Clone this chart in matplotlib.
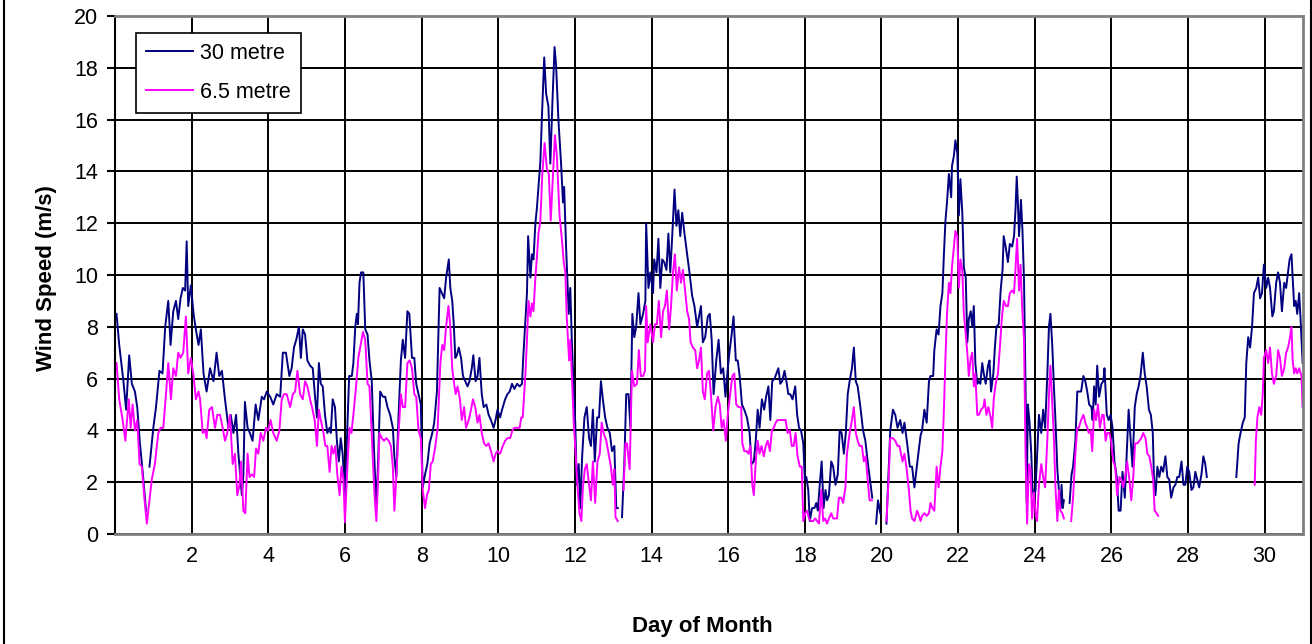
import numpy as np
import matplotlib
matplotlib.use("Agg")
import matplotlib.pyplot as plt
from matplotlib.lines import Line2D

# wind speed readings (day of month, m/s); None marks a gap in the record
pts_30m = [
    (0.04, 8.5), (0.11, 7.3), (0.22, 5.9), (0.29, 4.8), (0.37, 6.9), (0.44, 5.8), (0.52, 5.5),
    (0.58, 4.9), (0.65, 3.5), (0.71, 2.6), (0.81, 0.9), (0.85, None), (0.9, 2.6), (1.0, 4.1),
    (1.07, 4.9), (1.16, 6.3), (1.24, 6.2), (1.31, 8.0), (1.39, 9.0), (1.45, 7.3), (1.52, 8.6),
    (1.59, 9.0), (1.65, 8.3), (1.71, 9.1), (1.77, 9.5), (1.83, 9.4), (1.87, 11.3), (1.91, 8.8),
    (1.98, 9.6), (2.05, 8.5), (2.11, 7.9), (2.18, 7.3), (2.24, 7.9), (2.31, 6.2), (2.39, 5.5),
    (2.48, 6.4), (2.57, 5.9), (2.65, 7.0), (2.72, 6.1), (2.79, 6.3), (2.87, 5.2), (2.96, 4.1),
    (3.02, 4.6), (3.09, 3.9), (3.16, 4.6), (3.22, 3.1), (3.31, 1.5), (3.35, 2.3), (3.39, 5.1),
    (3.46, 4.1), (3.52, 3.9), (3.59, 3.6), (3.67, 5.0), (3.74, 4.4), (3.83, 5.3), (3.89, 5.2),
    (3.96, 5.5), (4.05, 5.3), (4.13, 5.0), (4.22, 5.4), (4.31, 5.3), (4.38, 7.0), (4.46, 7.0),
    (4.55, 6.1), (4.61, 6.4), (4.67, 7.2), (4.73, 7.5), (4.8, 8.0), (4.85, 6.8), (4.9, 7.9),
    (4.96, 7.7), (5.02, 6.7), (5.09, 6.5), (5.16, 6.4), (5.22, 5.3), (5.27, 4.5), (5.32, 6.6),
    (5.37, 5.8), (5.42, 5.7), (5.48, 4.6), (5.54, 3.9), (5.6, 4.1), (5.63, 3.9), (5.68, 5.2),
    (5.74, 4.9), (5.79, 3.6), (5.84, 2.8), (5.89, 3.7), (5.94, 3.1), (6.0, 1.5), (6.05, 3.6),
    (6.11, 6.1), (6.18, 6.1), (6.22, 6.6), (6.27, 8.0), (6.31, 8.5), (6.34, 8.1), (6.38, 9.7),
    (6.42, 10.1), (6.48, 10.1), (6.53, 7.9), (6.59, 7.7), (6.64, 6.7), (6.7, 5.9), (6.76, 3.2),
    (6.82, 1.0), (6.87, 3.0), (6.92, 5.5), (6.99, 5.3), (7.05, 5.3), (7.11, 4.9), (7.18, 4.6),
    (7.25, 4.1), (7.29, 3.0), (7.34, 2.2), (7.4, 4.6), (7.46, 6.7), (7.51, 7.5), (7.57, 6.8),
    (7.63, 8.6), (7.68, 8.5), (7.75, 6.8), (7.81, 6.8), (7.86, 5.8), (7.92, 5.4), (7.98, 5.0),
    (8.03, 1.8), (8.09, 2.3), (8.15, 2.7), (8.21, 3.5), (8.28, 3.9), (8.33, 4.3), (8.4, 5.5),
    (8.47, 9.5), (8.53, 9.3), (8.59, 9.1), (8.64, 9.9), (8.71, 10.6), (8.75, 9.5), (8.8, 9.0),
    (8.84, 8.1), (8.88, 6.8), (8.92, 6.9), (8.97, 7.2), (9.03, 6.8), (9.08, 6.1), (9.14, 5.9),
    (9.2, 5.7), (9.25, 5.9), (9.31, 6.4), (9.35, 6.9), (9.41, 5.9), (9.46, 6.1), (9.51, 6.8),
    (9.57, 5.4), (9.62, 4.9), (9.69, 5.0), (9.75, 4.6), (9.81, 4.4), (9.88, 4.1), (9.93, 4.4),
    (9.98, 4.8), (10.05, 4.5), (10.1, 4.8), (10.18, 5.2), (10.24, 5.4), (10.3, 5.5), (10.36, 5.8),
    (10.42, 5.6), (10.49, 5.8), (10.56, 5.7), (10.62, 5.8), (10.66, 7.0), (10.71, 8.3), (10.75, 9.3),
    (10.78, 11.5), (10.84, 9.9), (10.88, 10.8), (10.92, 10.6), (10.97, 12.0), (11.01, 12.6),
    (11.05, 13.4), (11.1, 14.4), (11.14, 16.1), (11.2, 18.4), (11.25, 17.0), (11.31, 16.5),
    (11.36, 14.3), (11.41, 16.5), (11.47, 18.8), (11.51, 18.1), (11.57, 16.0), (11.64, 14.3),
    (11.69, 12.8), (11.72, 13.4), (11.77, 11.1), (11.84, 8.5), (11.88, 9.5), (11.92, 7.5),
    (11.97, 5.6), (12.01, 4.3), (12.05, 1.9), (12.1, 2.7), (12.14, 1.0), (12.19, 3.0), (12.25, 4.5),
    (12.31, 4.9), (12.37, 3.7), (12.42, 3.4), (12.47, 4.8), (12.52, 2.8), (12.58, 4.5), (12.63, 4.5),
    (12.68, 5.9), (12.73, 5.2), (12.79, 4.5), (12.85, 4.1), (12.91, 3.9), (12.97, 3.2), (13.03, 3.4),
    (13.08, 1.0), (13.12, 1.0), (13.17, None), (13.23, 0.65), (13.29, 2.7), (13.34, 5.4), (13.4, 5.4),
    (13.45, 4.1), (13.5, 8.5), (13.55, 7.6), (13.6, 8.0), (13.66, 9.3), (13.71, 8.1), (13.78, 8.5),
    (13.84, 9.0), (13.86, 12.0), (13.92, 9.5), (13.97, 10.1), (14.04, 9.3), (14.07, 10.6),
    (14.13, 10.1), (14.18, 11.4), (14.23, 9.5), (14.28, 10.6), (14.33, 10.5), (14.39, 10.2),
    (14.44, 11.6), (14.49, 10.1), (14.54, 11.5), (14.6, 13.3), (14.65, 11.9), (14.7, 12.5),
    (14.75, 11.5), (14.8, 12.4), (14.86, 11.6), (14.93, 10.8), (14.99, 10.1), (15.06, 9.2),
    (15.12, 8.8), (15.19, 8.0), (15.24, 8.4), (15.29, 8.8), (15.34, 7.4), (15.4, 7.6), (15.47, 8.4),
    (15.52, 8.5), (15.57, 7.5), (15.62, 5.4), (15.69, 6.7), (15.75, 7.5), (15.81, 6.2), (15.87, 6.4),
    (15.93, 5.3), (15.99, 6.4), (16.04, 7.1), (16.09, 7.7), (16.14, 8.4), (16.2, 6.7), (16.25, 6.7),
    (16.3, 6.1), (16.36, 5.0), (16.42, 4.8), (16.49, 4.5), (16.56, 3.9), (16.61, 2.7), (16.67, 2.8),
    (16.72, 3.6), (16.77, 4.8), (16.82, 4.1), (16.88, 5.2), (16.94, 4.8), (16.99, 5.3), (17.05, 5.7),
    (17.1, 4.4), (17.15, 5.9), (17.21, 6.0), (17.26, 6.2), (17.31, 6.4), (17.36, 5.8), (17.41, 5.9),
    (17.47, 6.3), (17.52, 5.9), (17.57, 5.4), (17.62, 5.4), (17.68, 5.2), (17.75, 5.7), (17.8, 4.6),
    (17.85, 4.1), (17.9, 4.0), (17.96, 3.5), (18.0, 2.1), (18.04, 2.2), (18.09, 1.7), (18.13, 0.5),
    (18.19, 1.0), (18.25, 1.0), (18.3, 1.2), (18.34, 0.9), (18.39, 1.9), (18.44, 2.8), (18.49, 1.0),
    (18.54, 1.7), (18.58, 1.3), (18.63, 1.5), (18.69, 2.8), (18.74, 2.6), (18.8, 1.9), (18.86, 2.3),
    (18.91, 4.0), (18.96, 3.9), (19.02, 3.1), (19.07, 3.9), (19.12, 5.4), (19.17, 5.9), (19.23, 6.4),
    (19.28, 7.2), (19.33, 5.9), (19.38, 5.7), (19.45, 4.9), (19.52, 4.0), (19.58, 3.6), (19.64, 2.8),
    (19.7, 2.1), (19.76, 1.4), (19.81, None), (19.86, 0.4), (19.91, 1.3), (19.97, 0.8), (20.05, None),
    (20.13, 0.4), (20.23, 4.0), (20.3, 4.8), (20.36, 4.6), (20.42, 4.1), (20.49, 4.4), (20.55, 3.9),
    (20.6, 4.3), (20.67, 3.5), (20.74, 2.6), (20.8, 2.6), (20.86, 1.8), (20.93, 2.7), (20.98, 3.3),
    (21.02, 3.8), (21.06, 4.0), (21.12, 4.8), (21.18, 4.3), (21.24, 5.9), (21.28, 6.1), (21.35, 6.1),
    (21.38, 7.1), (21.44, 7.9), (21.49, 7.7), (21.54, 8.8), (21.59, 9.3), (21.63, 10.8), (21.67, 12.1),
    (21.71, 12.8), (21.76, 13.9), (21.82, 13.0), (21.84, 14.2), (21.89, 14.6), (21.93, 15.2),
    (21.98, 14.7), (22.02, 12.3), (22.06, 13.7), (22.11, 12.4), (22.15, 10.3), (22.2, 9.9),
    (22.24, 7.4), (22.28, 8.3), (22.33, 8.6), (22.37, 8.0), (22.41, 8.8), (22.45, 6.6), (22.5, 5.8),
    (22.54, 5.9), (22.58, 5.8), (22.63, 6.6), (22.67, 6.2), (22.72, 5.8), (22.78, 6.5), (22.82, 6.7),
    (22.86, 5.5), (22.92, 6.2), (22.96, 7.2), (23.0, 8.0), (23.06, 8.1), (23.11, 9.4), (23.16, 10.2),
    (23.19, 11.5), (23.24, 11.1), (23.3, 10.5), (23.35, 11.2), (23.41, 11.1), (23.46, 11.5),
    (23.5, 12.6), (23.53, 13.8), (23.56, 12.8), (23.59, 11.5), (23.64, 12.9), (23.68, 11.7),
    (23.72, 9.8), (23.76, 5.7), (23.79, 1.2), (23.82, 5.0), (23.86, 4.4), (23.91, 3.1), (23.94, 1.8),
    (23.98, 1.4), (24.02, 1.7), (24.06, 3.0), (24.11, 4.6), (24.17, 3.9), (24.22, 4.8), (24.27, 4.1),
    (24.33, 6.2), (24.37, 8.0), (24.41, 8.5), (24.46, 7.2), (24.5, 5.7), (24.54, 4.4), (24.59, 2.5),
    (24.63, 1.7), (24.67, 1.0), (24.7, 1.9), (24.73, 1.0), (24.76, 1.3), (24.83, None), (24.91, 1.2),
    (24.96, 2.3), (25.0, 2.6), (25.06, 3.6), (25.11, 5.5), (25.15, 5.5), (25.21, 5.5), (25.27, 6.1),
    (25.32, 5.9), (25.37, 5.5), (25.42, 5.0), (25.48, 4.9), (25.51, 4.4), (25.55, 5.7), (25.59, 5.0),
    (25.63, 6.5), (25.68, 5.3), (25.74, 5.8), (25.79, 5.9), (25.82, 6.4), (25.88, 4.6), (25.93, 4.4),
    (25.98, 4.6), (26.03, 4.1), (26.08, 2.8), (26.14, 2.2), (26.19, 0.9), (26.24, 0.9), (26.29, 2.4),
    (26.35, 1.4), (26.4, 3.1), (26.45, 4.8), (26.5, 3.7), (26.55, 2.6), (26.61, 4.9), (26.66, 5.4),
    (26.71, 5.7), (26.76, 6.1), (26.82, 7.0), (26.87, 6.2), (26.92, 5.7), (26.98, 4.8), (27.03, 4.6),
    (27.08, 3.9), (27.11, 2.2), (27.15, 1.5), (27.2, 2.6), (27.25, 2.2), (27.3, 2.6), (27.35, 2.4),
    (27.41, 3.0), (27.46, 2.2), (27.51, 2.1), (27.56, 1.4), (27.62, 1.8), (27.67, 1.9), (27.72, 2.2),
    (27.77, 2.2), (27.83, 2.8), (27.88, 1.9), (27.93, 1.9), (27.98, 2.6), (28.03, 2.4), (28.09, 1.7),
    (28.14, 1.8), (28.19, 2.4), (28.24, 2.1), (28.29, 1.8), (28.35, 2.3), (28.4, 3.0), (28.45, 2.7),
    (28.49, 2.2), (28.9, None), (29.26, 2.2), (29.32, 3.5), (29.37, 3.9), (29.43, 4.3), (29.48, 4.5),
    (29.52, 6.6), (29.57, 7.6), (29.62, 7.2), (29.67, 8.0), (29.72, 9.3), (29.78, 9.5), (29.83, 9.9),
    (29.88, 9.1), (29.93, 9.3), (29.98, 10.4), (30.04, 9.5), (30.09, 9.9), (30.14, 9.5), (30.2, 8.4),
    (30.24, 8.6), (30.3, 9.7), (30.35, 10.1), (30.4, 9.7), (30.45, 8.6), (30.51, 9.7), (30.56, 9.5),
    (30.61, 10.1), (30.65, 10.6), (30.7, 10.8), (30.73, 9.9), (30.77, 8.8), (30.81, 9.0), (30.85, 8.5),
    (30.9, 9.3), (30.94, 8.2), (30.99, 6.6),
]

pts_65m = [
    (0.04, 6.6), (0.11, 5.2), (0.2, 4.4), (0.27, 3.6), (0.36, 5.2), (0.41, 4.1), (0.46, 5.0),
    (0.52, 4.0), (0.58, 4.4), (0.64, 2.7), (0.7, 2.6), (0.76, 1.5), (0.83, 0.4), (0.9, 1.3),
    (0.96, 2.1), (1.04, 2.7), (1.13, 3.9), (1.19, 4.1), (1.26, 4.1), (1.33, 5.4), (1.39, 6.6),
    (1.46, 5.2), (1.52, 6.4), (1.59, 6.1), (1.65, 7.0), (1.71, 6.8), (1.78, 7.0), (1.85, 8.4),
    (1.91, 6.2), (1.98, 6.8), (2.05, 6.1), (2.11, 5.2), (2.18, 5.5), (2.22, 5.2), (2.29, 3.9),
    (2.35, 4.0), (2.39, 3.7), (2.46, 4.8), (2.53, 4.9), (2.61, 4.1), (2.67, 4.6), (2.74, 4.6),
    (2.81, 4.1), (2.87, 3.6), (2.93, 3.9), (3.0, 4.6), (3.07, 2.7), (3.13, 3.1), (3.19, 1.5),
    (3.25, 1.9), (3.29, 2.8), (3.35, 0.9), (3.4, 0.8), (3.46, 3.1), (3.51, 2.2), (3.57, 2.3),
    (3.63, 2.2), (3.68, 3.3), (3.74, 3.1), (3.8, 3.9), (3.87, 3.6), (3.94, 4.1), (4.0, 4.0),
    (4.06, 4.4), (4.13, 3.9), (4.22, 3.6), (4.29, 4.0), (4.35, 5.2), (4.41, 5.4), (4.48, 5.4),
    (4.57, 4.9), (4.64, 5.4), (4.7, 5.5), (4.76, 6.3), (4.83, 5.4), (4.9, 5.2), (4.96, 5.9),
    (5.02, 5.7), (5.09, 5.2), (5.14, 4.9), (5.21, 4.4), (5.27, 3.4), (5.32, 4.8), (5.37, 4.4),
    (5.44, 3.9), (5.49, 3.4), (5.54, 3.4), (5.6, 2.4), (5.65, 3.4), (5.7, 3.1), (5.75, 3.4),
    (5.8, 2.3), (5.86, 1.5), (5.91, 2.6), (5.96, 2.1), (6.0, 0.45), (6.07, 2.8), (6.12, 4.1),
    (6.17, 3.9), (6.22, 4.6), (6.29, 5.7), (6.35, 6.8), (6.41, 7.3), (6.47, 7.8), (6.53, 7.5),
    (6.59, 5.8), (6.64, 5.7), (6.68, 4.5), (6.73, 2.8), (6.78, 1.3), (6.82, 0.5), (6.86, 1.9),
    (6.9, 3.9), (6.96, 3.7), (7.02, 3.6), (7.08, 3.7), (7.14, 3.6), (7.2, 3.4), (7.25, 2.6),
    (7.29, 0.9), (7.34, 2.2), (7.4, 3.9), (7.46, 5.4), (7.51, 4.9), (7.57, 4.9), (7.63, 6.6),
    (7.69, 6.7), (7.75, 6.4), (7.81, 5.4), (7.86, 5.3), (7.92, 4.0), (7.98, 3.7), (8.03, 1.7),
    (8.09, 1.0), (8.14, 1.5), (8.19, 1.7), (8.24, 2.7), (8.29, 2.8), (8.36, 3.4), (8.42, 4.1),
    (8.49, 6.6), (8.54, 7.3), (8.59, 7.1), (8.64, 8.0), (8.7, 8.8), (8.75, 8.0), (8.8, 6.4),
    (8.84, 5.9), (8.89, 5.4), (8.94, 5.7), (9.0, 5.2), (9.05, 4.4), (9.11, 4.9), (9.16, 4.1),
    (9.23, 4.4), (9.29, 4.8), (9.34, 5.2), (9.4, 4.9), (9.46, 4.3), (9.51, 4.6), (9.57, 3.9),
    (9.63, 3.5), (9.69, 3.4), (9.75, 3.5), (9.81, 3.2), (9.88, 2.8), (9.93, 3.1), (9.98, 3.2),
    (10.05, 3.1), (10.12, 3.4), (10.18, 3.6), (10.24, 3.7), (10.31, 3.7), (10.37, 4.0), (10.42, 4.1),
    (10.49, 4.1), (10.56, 4.1), (10.6, 4.5), (10.64, 4.5), (10.71, 6.2), (10.75, 7.5), (10.79, 9.0),
    (10.84, 8.4), (10.88, 8.9), (10.92, 8.6), (10.97, 9.9), (11.01, 10.7), (11.05, 11.6),
    (11.1, 12.1), (11.15, 13.9), (11.21, 15.1), (11.27, 14.1), (11.32, 13.9), (11.37, 12.1),
    (11.43, 13.9), (11.48, 15.4), (11.53, 14.6), (11.6, 12.3), (11.66, 11.4), (11.71, 10.5),
    (11.75, 10.1), (11.79, 8.3), (11.85, 6.7), (11.88, 7.5), (11.92, 6.2), (11.97, 4.3), (12.02, 3.1),
    (12.07, 1.8), (12.12, 0.8), (12.17, 0.5), (12.21, 1.8), (12.26, 2.5), (12.31, 2.7), (12.37, 1.9),
    (12.42, 1.3), (12.47, 2.8), (12.53, 1.2), (12.59, 2.8), (12.65, 3.1), (12.7, 4.3), (12.75, 3.9),
    (12.82, 3.6), (12.88, 3.1), (12.94, 2.6), (12.99, 1.9), (13.03, 2.5), (13.06, 0.65), (13.12, 0.5),
    (13.2, None), (13.27, 1.7), (13.32, 3.5), (13.36, 3.5), (13.43, 2.5), (13.49, 6.3), (13.55, 5.7),
    (13.62, 5.8), (13.67, 7.1), (13.72, 6.1), (13.78, 6.1), (13.83, 6.3), (13.86, 8.8), (13.9, 7.4),
    (13.97, 8.1), (14.04, 7.4), (14.09, 8.1), (14.14, 8.1), (14.19, 9.0), (14.25, 7.6), (14.3, 8.6),
    (14.35, 8.8), (14.4, 9.4), (14.46, 7.9), (14.51, 8.8), (14.56, 10.1), (14.61, 10.8), (14.66, 9.4),
    (14.72, 10.3), (14.77, 9.7), (14.82, 10.2), (14.87, 9.5), (14.93, 8.6), (14.98, 8.3), (15.02, 7.4),
    (15.08, 7.2), (15.14, 7.1), (15.19, 6.4), (15.24, 6.7), (15.29, 7.2), (15.34, 5.5), (15.39, 5.2),
    (15.45, 6.2), (15.5, 6.3), (15.55, 5.4), (15.61, 4.0), (15.67, 4.9), (15.73, 5.3), (15.78, 5.0),
    (15.83, 4.1), (15.88, 4.4), (15.94, 3.6), (15.99, 4.6), (16.06, 5.5), (16.11, 6.1), (16.16, 6.2),
    (16.21, 5.0), (16.27, 4.9), (16.34, 4.9), (16.37, 3.5), (16.42, 3.2), (16.48, 3.2), (16.53, 3.1),
    (16.58, 3.4), (16.63, 1.9), (16.67, 1.5), (16.72, 2.8), (16.77, 3.6), (16.82, 3.1), (16.87, 3.4),
    (16.93, 3.0), (16.98, 3.4), (17.03, 3.6), (17.09, 3.2), (17.14, 4.0), (17.19, 4.1), (17.24, 4.3),
    (17.29, 4.4), (17.35, 4.4), (17.4, 4.4), (17.45, 4.4), (17.5, 4.4), (17.55, 3.9), (17.61, 4.0),
    (17.66, 3.4), (17.71, 3.4), (17.76, 3.9), (17.81, 3.0), (17.87, 2.6), (17.92, 2.6), (17.96, 0.5),
    (18.01, 0.8), (18.06, 0.9), (18.11, 0.6), (18.16, 0.5), (18.22, 0.5), (18.27, 0.6), (18.32, 0.5),
    (18.37, 0.4), (18.43, 1.7), (18.48, 0.5), (18.53, 0.6), (18.58, 0.4), (18.63, 0.6), (18.69, 0.8),
    (18.74, 0.6), (18.79, 0.6), (18.84, 0.6), (18.89, 1.4), (18.95, 1.4), (19.0, 1.2), (19.06, 1.8),
    (19.1, 3.1), (19.17, 3.9), (19.23, 4.4), (19.28, 4.9), (19.33, 3.9), (19.38, 3.6), (19.43, 3.4),
    (19.49, 3.4), (19.54, 2.8), (19.59, 3.0), (19.64, 2.1), (19.69, 1.3), (19.75, 1.3), (19.9, None),
    (20.13, 0.5), (20.19, 2.2), (20.23, 3.7), (20.3, 3.7), (20.36, 3.6), (20.42, 3.4), (20.47, 3.4),
    (20.55, 2.8), (20.6, 3.1), (20.65, 2.6), (20.71, 1.8), (20.76, 0.9), (20.8, 0.6), (20.86, 0.5),
    (20.93, 0.9), (20.98, 0.7), (21.02, 0.5), (21.06, 0.7), (21.12, 0.8), (21.18, 0.7), (21.24, 0.8),
    (21.28, 1.2), (21.33, 1.0), (21.38, 0.9), (21.44, 2.6), (21.49, 1.8), (21.54, 2.6), (21.59, 3.2),
    (21.63, 4.8), (21.67, 6.8), (21.71, 8.5), (21.76, 9.7), (21.8, 9.3), (21.84, 10.3), (21.89, 11.1),
    (21.93, 11.7), (21.98, 11.5), (22.02, 9.5), (22.06, 10.6), (22.11, 10.2), (22.15, 8.5), (22.2, 7.7),
    (22.24, 7.0), (22.28, 6.1), (22.33, 6.8), (22.37, 7.0), (22.41, 5.7), (22.45, 6.2), (22.5, 4.6),
    (22.54, 4.6), (22.6, 4.8), (22.66, 4.9), (22.69, 5.2), (22.74, 4.6), (22.79, 4.9), (22.85, 4.5),
    (22.89, 4.1), (22.93, 5.2), (22.98, 5.8), (23.04, 6.2), (23.09, 7.2), (23.14, 8.3), (23.19, 9.0),
    (23.25, 8.8), (23.3, 8.8), (23.35, 9.3), (23.41, 9.4), (23.46, 9.3), (23.5, 10.3), (23.54, 11.4),
    (23.59, 9.4), (23.63, 10.4), (23.67, 8.8), (23.72, 7.5), (23.76, 3.1), (23.8, 0.4), (23.85, 2.7),
    (23.89, 2.5), (23.93, 0.6), (23.98, 1.6), (24.02, 0.8), (24.06, 0.5), (24.11, 1.9), (24.17, 2.7),
    (24.22, 2.2), (24.27, 1.8), (24.33, 3.7), (24.38, 5.7), (24.41, 6.5), (24.46, 4.9), (24.5, 3.7),
    (24.54, 1.8), (24.59, 0.5), (24.63, 1.7), (24.67, 0.9), (24.72, 0.8), (24.76, 0.6), (24.85, None),
    (24.95, 0.5), (25.0, 1.4), (25.06, 3.1), (25.11, 4.1), (25.15, 4.1), (25.21, 4.4), (25.27, 4.6),
    (25.32, 4.3), (25.37, 4.1), (25.41, 3.9), (25.46, 4.0), (25.5, 3.2), (25.55, 4.8), (25.6, 4.4),
    (25.65, 5.0), (25.7, 4.1), (25.76, 4.6), (25.8, 4.6), (25.85, 3.6), (25.89, 3.9), (25.95, 3.9),
    (25.99, 3.6), (26.05, 2.8), (26.1, 2.6), (26.15, 1.5), (26.21, 2.2), (26.26, 2.1), (26.31, 1.8),
    (26.36, 2.2), (26.41, 2.8), (26.47, 2.1), (26.52, 1.3), (26.57, 2.2), (26.62, 3.5), (26.68, 3.5),
    (26.73, 3.6), (26.78, 3.7), (26.83, 3.9), (26.89, 3.7), (26.94, 3.1), (26.99, 3.0), (27.04, 2.6),
    (27.09, 2.1), (27.13, 0.9), (27.18, 0.8), (27.22, 0.7), (28.5, None), (29.74, 1.9), (29.77, 3.6),
    (29.81, 4.5), (29.86, 4.9), (29.91, 4.6), (29.95, 5.4), (29.98, 6.8), (30.04, 7.1), (30.09, 6.6),
    (30.14, 7.2), (30.19, 6.2), (30.24, 5.8), (30.3, 6.1), (30.35, 7.1), (30.4, 6.8), (30.45, 6.1),
    (30.51, 6.4), (30.56, 7.0), (30.61, 7.2), (30.65, 7.5), (30.7, 8.0), (30.73, 6.7), (30.77, 6.2),
    (30.81, 6.4), (30.85, 6.2), (30.9, 6.4), (30.96, 6.1), (30.99, 4.9),
]

series_labels = ["30 metre", "6.5 metre"]
series_colors = ["#000080", "#FF00FF"]
x_ticks = list(range(2, 31, 2))
y_ticks = list(range(0, 21, 2))

plt.rcParams['font.family'] = ['Liberation Sans', 'DejaVu Sans']

W, H = 1312, 644
fig = plt.figure(figsize=(W / 100, H / 100), dpi=100)
ax = fig.add_axes([115 / W, (H - 534) / H, 1188 / W, 518 / H])

for pts, lab, col in zip([pts_30m, pts_65m], series_labels, series_colors):
    arr = np.array(pts, dtype=float)
    ax.plot(arr[:, 0], arr[:, 1], color=col, lw=1.4, label=lab)

ax.set_xlim(0, 31)
ax.set_ylim(0, 20)
ax.set_xticks(x_ticks)
ax.set_yticks(y_ticks)
ax.grid(True, color='black', linewidth=1.4)
ax.set_axisbelow(True)

for side in ['top', 'right', 'bottom']:
    ax.spines[side].set_color('#808080')
    ax.spines[side].set_linewidth(2)
ax.spines['left'].set_color('black')
ax.spines['left'].set_linewidth(1.5)

ax.tick_params(axis='x', length=0, pad=9, labelsize=15.5)
ax.tick_params(axis='y', length=6, width=1.5, pad=6, labelsize=15.5, direction='out')

ax.set_ylabel('Wind Speed (m/s)', fontsize=16, fontweight='bold')
ax.yaxis.set_label_coords(-0.049, 0.495)
ax.set_xlabel('Day of Month', fontsize=16, fontweight='bold')
ax.xaxis.set_label_coords(0.494, -0.158)

leg = ax.legend(loc='upper left', bbox_to_anchor=((136 - 115) / 1188, (534 - 33) / 518),
                borderaxespad=0, fontsize=15.5, frameon=True, fancybox=False, framealpha=1,
                edgecolor='black', handlelength=2.2, handletextpad=0.33, labelspacing=0.85,
                borderpad=0.45)
leg.get_frame().set_linewidth(1.2)

# outer chart border (left and right edges visible in the original)
for xp in [4 / W, 1310.5 / W]:
    fig.add_artist(Line2D([xp, xp], [0, 1], color='black', lw=1.5, transform=fig.transFigure))

fig.savefig('out.png', dpi=100)
